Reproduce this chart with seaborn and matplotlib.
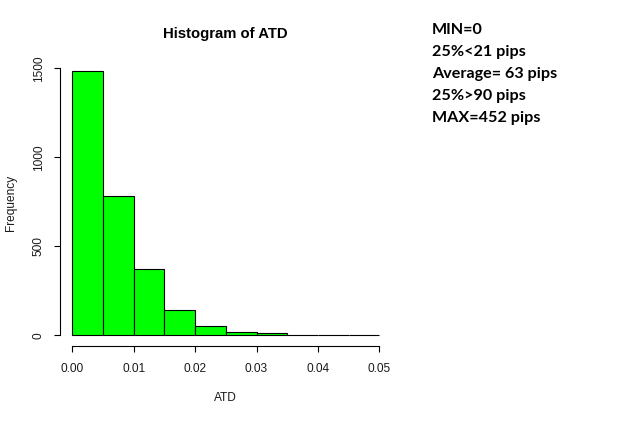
import numpy as np
import matplotlib
matplotlib.use("Agg")
import matplotlib.pyplot as plt
import seaborn as sns

# bins of the histogram and counts
bin_edges = [0.000, 0.005, 0.010, 0.015, 0.020, 0.025, 0.030, 0.035, 0.040, 0.045, 0.050]
counts = [1485, 783, 371, 140, 54, 17, 11, 2, 1, 1]
x_ticks = [0.00, 0.01, 0.02, 0.03, 0.04, 0.05]
y_ticks = [0, 500, 1000, 1500]
notes = ["MIN=0", "25%<21 pips", "Average= 63 pips", "25%>90 pips", "MAX=452 pips"]

sns.set_style("white")
plt.rcParams['font.family'] = ['Liberation Sans', 'DejaVu Sans']

fig = plt.figure(figsize=(6.25, 4.21), dpi=100)
W, H = 625, 421
ax = fig.add_axes([60 / W, 75 / H, (391.6 - 60) / W, (360.6 - 75) / H])

centers = [(a + b) / 2 for a, b in zip(bin_edges[:-1], bin_edges[1:])]
sns.histplot(x=centers, weights=counts, bins=bin_edges, ax=ax,
             color='#00ff00', edgecolor='black', linewidth=0.8, alpha=1)

ymax = max(counts)
ax.set_xlim(-0.002, 0.052)
ax.set_ylim(-0.04 * ymax, 1.04 * ymax)

ax.set_xticks(x_ticks)
ax.set_xticklabels([f'{t:.2f}' for t in x_ticks])
ax.set_yticks(y_ticks)
ax.set_yticklabels([str(t) for t in y_ticks], rotation=90, va='center')

for s in ['top', 'right']:
    ax.spines[s].set_visible(False)
ax.spines['left'].set_bounds(0, 1500)
ax.spines['bottom'].set_bounds(0, 0.05)
for s in ['left', 'bottom']:
    ax.spines[s].set_color('black')
    ax.spines[s].set_linewidth(0.8)

# R style ticks: outward, on the left and bottom only
ax.tick_params(axis='both', bottom=True, left=True, direction='out', length=4.3,
               width=0.8, color='black', labelsize=8.6, labelcolor='#1a1a1a')
ax.tick_params(axis='x', pad=8)
ax.tick_params(axis='y', pad=6.8)
ax.grid(False)

ax.set_xlabel('ATD', fontsize=8.6, color='#1a1a1a', labelpad=12)
ax.set_ylabel('Frequency', fontsize=8.6, color='#1a1a1a', labelpad=11)
ax.set_title('Histogram of ATD', fontsize=10.7, fontweight='bold', color='black', pad=16)

for i, t in enumerate(notes):
    fig.text(432 / W, 1 - (30 + 22 * i) / H, t, fontsize=11.6, fontweight='bold',
             color='black', family=['Lato', 'DejaVu Sans'], va='center', ha='left')

fig.savefig('out.png', dpi=100, facecolor='white')
